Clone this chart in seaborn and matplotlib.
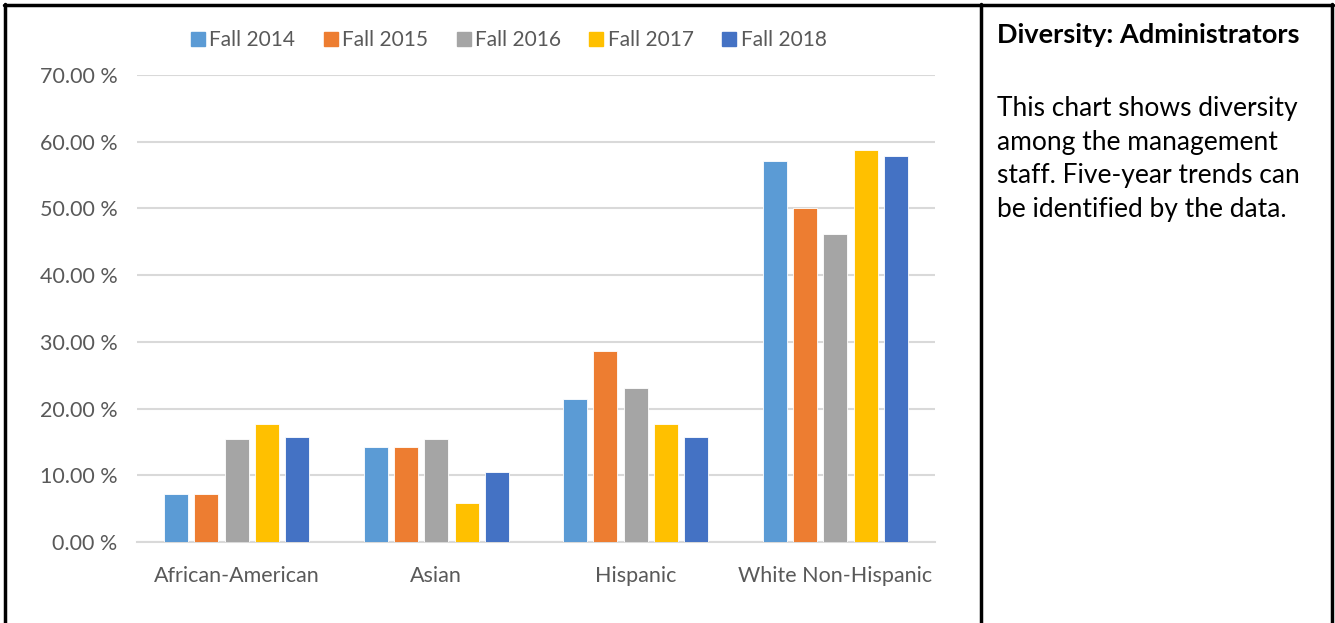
import matplotlib
matplotlib.use("Agg")
import matplotlib.pyplot as plt
from matplotlib.lines import Line2D
from matplotlib.ticker import FuncFormatter, MultipleLocator
import seaborn as sns
import pandas as pd

categories = ["African-American", "Asian", "Hispanic", "White Non-Hispanic"]
years = ["Fall 2014", "Fall 2015", "Fall 2016", "Fall 2017", "Fall 2018"]
fall_2014 = [7.14, 14.29, 21.43, 57.14]
fall_2015 = [7.14, 14.29, 28.57, 50.00]
fall_2016 = [15.38, 15.38, 23.08, 46.15]
fall_2017 = [17.65, 5.88, 17.65, 58.82]
fall_2018 = [15.79, 10.53, 15.79, 57.89]
series = [fall_2014, fall_2015, fall_2016, fall_2017, fall_2018]
colors = ["#5B9BD5", "#ED7D31", "#A5A5A5", "#FFC000", "#4472C4"]
title_text = "Diversity: Administrators"
body_text = "This chart shows diversity\namong the management\nstaff. Five-year trends can\nbe identified by the data."

rows = []
for y, vals in zip(years, series):
    for c, v in zip(categories, vals):
        rows.append({"Category": c, "Year": y, "Value": v})
df = pd.DataFrame(rows)

sns.set_theme(style="white")
plt.rcParams["font.family"] = ["Lato", "DejaVu Sans"]

fig = plt.figure(figsize=(13.35, 6.23), dpi=100)
ax = fig.add_axes([137/1335, 1-542/623, (935-137)/1335, (542-75)/623])

sns.barplot(data=df, x="Category", y="Value", hue="Year", order=categories,
            hue_order=years, palette=colors, saturation=1, width=0.76, gap=0.21,
            edgecolor="#FFFFFF", linewidth=0.6, legend=False, ax=ax, zorder=3)

ax.set_ylim(0, 70)
ax.set_xlim(-0.5, 3.5)
ax.yaxis.set_major_locator(MultipleLocator(10))
ax.yaxis.set_major_formatter(FuncFormatter(lambda v, p: f"{v:.2f} %"))
ax.grid(axis="y", color="#D9D9D9", linewidth=1.5, zorder=0)
ax.set_axisbelow(True)
for s in ["top", "right", "left"]:
    ax.spines[s].set_visible(False)
ax.spines["bottom"].set_color("#D9D9D9")
ax.spines["bottom"].set_linewidth(1.5)
ax.set_xlabel("")
ax.set_ylabel("")
ax.tick_params(axis="both", length=0, labelsize=15.5, labelcolor="#595959")
ax.tick_params(axis="y", pad=14)
ax.tick_params(axis="x", pad=17)

handles = [Line2D([], [], marker="s", linestyle="none", markersize=10,
                  markerfacecolor=c, markeredgecolor=c) for c in colors]
leg = fig.legend(handles, years, loc="center", bbox_to_anchor=(507/1335, 1-40/623),
                 ncol=5, frameon=False, fontsize=15, handletextpad=0.05,
                 columnspacing=1.2, handlelength=1.0)
for t in leg.get_texts():
    t.set_color("#595959")

# panel borders
for x in [5/1335, 981/1335, 1332/1335]:
    fig.add_artist(Line2D([x, x], [0, 1-4/623], color="black", linewidth=2.5,
                          transform=fig.transFigure))
fig.add_artist(Line2D([4/1335, 1333/1335], [1-5/623, 1-5/623], color="black",
                      linewidth=2.5, transform=fig.transFigure))

fig.text(997/1335, 1-35/623, title_text, fontsize=19.5, fontweight="bold",
         color="black", va="center", ha="left")
fig.text(997/1335, 1-96/623, body_text, fontsize=19, color="black",
         va="top", ha="left", linespacing=1.43)

fig.savefig("out.png", dpi=100)
